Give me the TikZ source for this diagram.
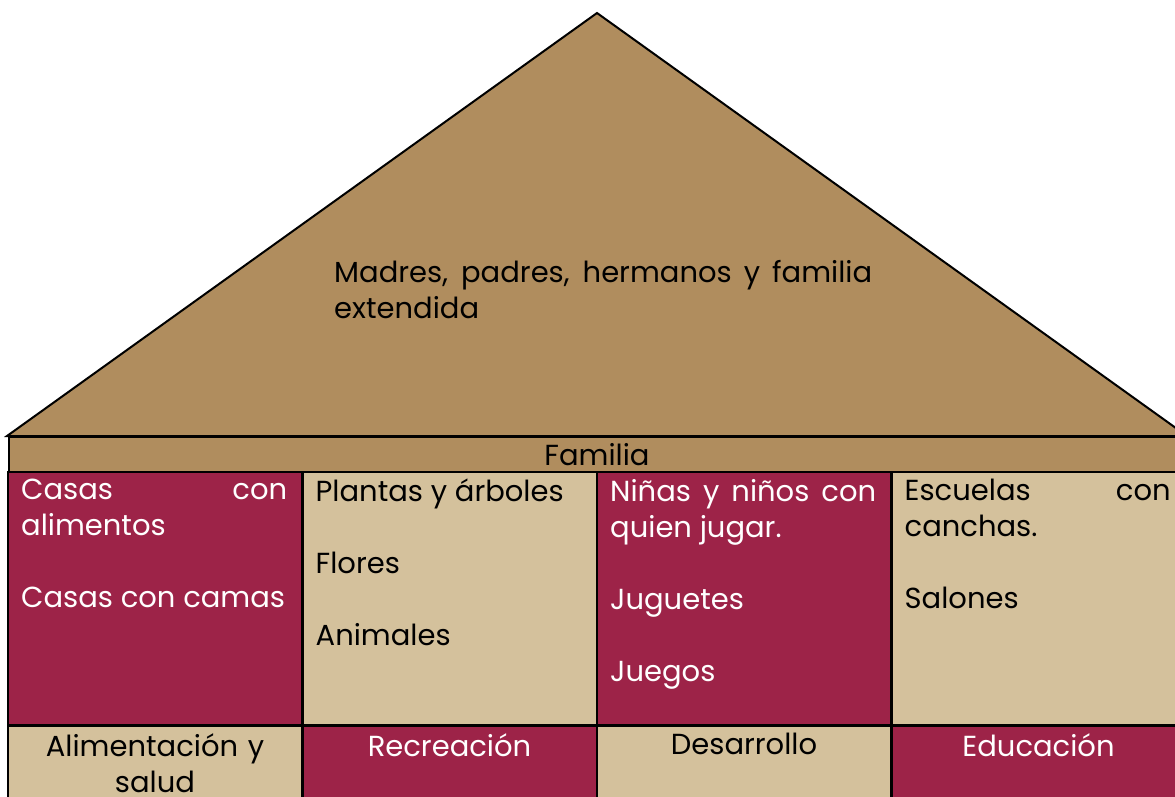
\documentclass[tikz,border=0pt]{standalone}
\usepackage{fontspec}
\setmainfont{Poppins}
\usetikzlibrary{positioning,calc}
\definecolor{roofbrown}{HTML}{B08D5E}
\definecolor{guinda}{HTML}{9D2348}
\definecolor{arena}{HTML}{D4C19C}
\newcommand{\housefont}{\fontsize{29}{36}\selectfont\hyphenpenalty=10000\exhyphenpenalty=10000}
\tikzset{
  cell/.style={rectangle, draw=black, line width=2pt, minimum width=294pt, minimum height=253pt, inner sep=0pt},
  footcell/.style={rectangle, draw=black, line width=2pt, minimum width=294pt, minimum height=80pt, inner sep=0pt},
  celltext/.style={anchor=north west, inner sep=0pt, text width=266pt, align=justify, font=\housefont},
  foottext/.style={anchor=north, inner sep=0pt, text width=288pt, align=center, font=\housefont}
}
\begin{document}
\begin{tikzpicture}[x=1pt, y=-1pt]
    \useasboundingbox (0,0) rectangle (1175,796);
    \fill[white] (0,0) rectangle (1175,796);

    % Roof
    \coordinate (eaveL) at (7,436);
    \coordinate (apex) at (597,13);
    \coordinate (eaveR) at (1187,436);
    \draw[fill=roofbrown, line width=2pt, line join=miter] (eaveL) -- (apex) -- (eaveR) -- cycle;
    \node[celltext, text width=538pt] (rooftext) at (334,260) {Madres, padres, hermanos y familia extendida};

    % Familia band
    \node[rectangle, draw=black, line width=2pt, fill=roofbrown, minimum width=1178pt, minimum height=36pt, inner sep=0pt, anchor=north west] (band) at (8,436) {};
    \node[font=\housefont, inner sep=0pt] (familia) at (597,455) {Familia};

    % Middle row
    \node[cell, fill=guinda] (c1) at (155,598.5) {};
    \node[cell, fill=arena] (c2) at (449.5,598.5) {};
    \node[cell, fill=guinda] (c3) at (744,598.5) {};
    \node[cell, fill=arena] (c4) at (1038.5,598.5) {};

    \node[celltext, text=white] (t1) at ([shift={(14,8)}]c1.north west) {Casas con alimentos\par\vspace{36pt}Casas con camas};
    \node[celltext] (t2) at ([shift={(14,8)}]c2.north west) {Plantas y árboles\par\vspace{36pt}Flores\par\vspace{36pt}Animales};
    \node[celltext, text=white] (t3) at ([shift={(14,8)}]c3.north west) {Niñas y niños con quien jugar.\par\vspace{36pt}Juguetes\par\vspace{36pt}Juegos};
    \node[celltext] (t4) at ([shift={(14,8)}]c4.north west) {Escuelas con canchas.\par\vspace{36pt}Salones};

    % Bottom row
    \foreach \i/\x/\col/\txt/\tcol in {1/155/arena/{Alimentación y\\salud}/black,
                                       2/449.5/guinda/Recreación/white,
                                       3/744/arena/Desarrollo/black,
                                       4/1038.5/guinda/Educación/white} {
        \node[footcell, fill=\col, anchor=north] (f\i) at (\x,725) {};
        \node[foottext, text=\tcol] (ft\i) at ([yshift=-8pt]f\i.north) {\txt};
    }
\end{tikzpicture}
\end{document}
